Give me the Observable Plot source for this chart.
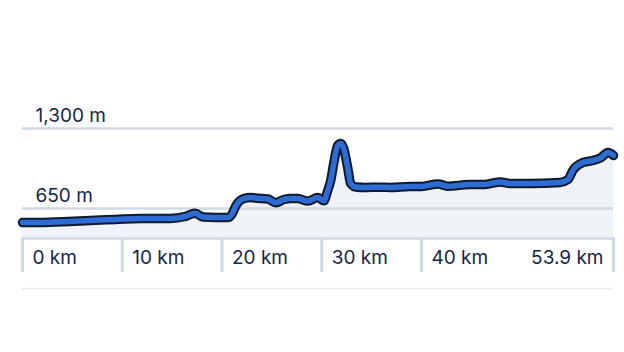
<!DOCTYPE html>
<html>
<head>
<meta charset="utf-8">
<script src="https://cdn.jsdelivr.net/npm/d3@7"></script>
<script src="https://cdn.jsdelivr.net/npm/@observablehq/plot@0.6"></script>
<style>
  html, body { margin: 0; padding: 0; background: #ffffff; }
  #chart svg { display: block; }
</style>
</head>
<body>
<div id="chart"></div>
<script>
// Distance along route (km) and elevation (m)
const distanceKm = [0, 1.8, 4.6, 6.8, 9.3, 11.8, 14.8, 16.3, 17.3, 18.1, 19.3, 20.6, 21.0, 21.4, 22.2, 22.9, 23.6, 24.6, 25.4, 26.2, 26.9, 27.6, 28.6, 29.6, 30.2, 30.6, 30.9, 31.2, 31.6, 31.9, 32.2, 32.6, 32.9, 33.4, 34.4, 35.6, 36.9, 38.9, 40.0, 41.2, 41.9, 43.5, 44.6, 45.7, 46.4, 47.9, 50.0, 50.6, 51.0, 51.7, 52.4, 53.0, 53.5, 53.9];
const elevationM = [536, 536, 544, 553, 561, 569, 569, 585, 612, 580, 577, 577, 605, 674, 731, 739, 733, 727, 697, 723, 731, 731, 710, 739, 712, 796, 878, 1016, 1162, 1178, 1138, 983, 853, 825, 821, 823, 821, 829, 829, 850, 831, 845, 845, 866, 853, 853, 861, 886, 967, 1024, 1040, 1064, 1105, 1081];

const yTicks = [650, 1300];
const yTickLabels = ["650 m", "1,300 m"];
const xTicks = [0, 10, 20, 30, 40];
const xTickLabels = ["0 km", "10 km", "20 km", "30 km", "40 km"];
const xEnd = [53.9];
const xEndLabel = ["53.9 km"];

const profile = distanceKm.map((d, i) => ({km: d, elev: elevationM[i]}));

const textColor = "#14254a";
const gridColor = "#d0d9e4";
const font = "Inter, 'Noto Sans', sans-serif";

const chart = Plot.plot({
  width: 624,
  height: 352,
  marginLeft: 22,
  marginRight: 11,
  marginTop: 88,
  marginBottom: 114,
  style: {fontFamily: font, background: "#ffffff"},
  x: {type: "linear", domain: [0, 40, 53.9], range: [22, 421, 613], axis: null},
  y: {domain: [406.25, 1625], axis: null},
  marks: [
    Plot.areaY(profile, {x: "km", y: "elev", fill: "#eff2f7", curve: "monotone-x", clip: true}),
    Plot.ruleY(yTicks, {stroke: gridColor, strokeWidth: 2.5}),
    Plot.frame({anchor: "bottom", stroke: gridColor, strokeWidth: 2.5}),
    Plot.ruleY([0], {stroke: "#e6eaf0", strokeWidth: 1.5}),
    Plot.axisX(xTicks.concat(xEnd), {tickSize: 34, tickFormat: () => "", label: null, stroke: gridColor, strokeWidth: 3}),
    Plot.text(xTicks, {x: d => d, text: (d, i) => xTickLabels[i], frameAnchor: "bottom", dy: 25, dx: 10, textAnchor: "start", fontSize: 19, fill: textColor}),
    Plot.text(xEnd, {x: d => d, text: (d, i) => xEndLabel[i], frameAnchor: "bottom", dy: 25, dx: -10, textAnchor: "end", fontSize: 19, fill: textColor}),
    Plot.text(yTicks, {y: d => d, text: (d, i) => yTickLabels[i], frameAnchor: "left", dx: 13, dy: -13, textAnchor: "start", fontSize: 19, fill: textColor}),
    Plot.line(profile, {x: "km", y: "elev", stroke: "#0e1a2c", strokeWidth: 9.5, curve: "monotone-x", strokeLinecap: "round", strokeLinejoin: "round"}),
    Plot.line(profile, {x: "km", y: "elev", stroke: "#2d6cd3", strokeWidth: 5.5, curve: "monotone-x", strokeLinecap: "round", strokeLinejoin: "round"})
  ]
});
document.getElementById("chart").appendChild(chart);
</script>
</body>
</html>
